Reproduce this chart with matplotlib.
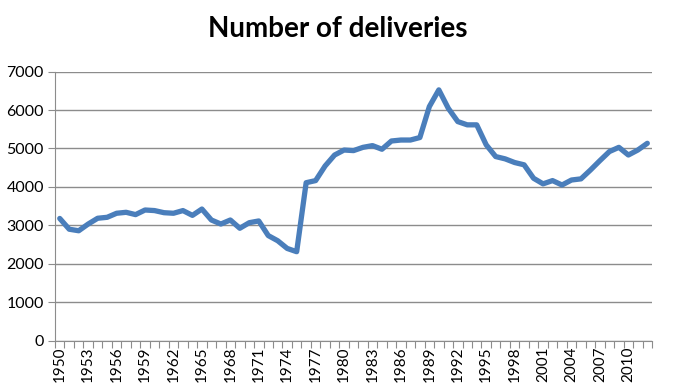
import numpy as np
import matplotlib.pyplot as plt

years = list(range(1950, 2013))
deliveries = [
    3180, 2900, 2860, 3035, 3185, 3210, 3315, 3340, 3280, 3400,
    3385, 3330, 3315, 3385, 3260, 3425, 3140, 3035, 3140, 2925,
    3070, 3115, 2735, 2600, 2400, 2315, 4110, 4165, 4545, 4830,
    4960, 4945, 5030, 5075, 4980, 5195, 5220, 5220, 5285, 6090,
    6525, 6045, 5700, 5615, 5615, 5095, 4790, 4730, 4635, 4575,
    4225, 4080, 4165, 4050, 4180, 4210, 4440, 4685, 4920, 5030,
    4830, 4960, 5135,
]
label_years = years[::3]

plt.rcParams['font.family'] = ['Lato', 'DejaVu Sans']

fig = plt.figure(figsize=(6.75, 3.9), dpi=100)
ax = fig.add_axes([0.0815, 0.1264, 0.8845, 0.69])

x = np.arange(len(years))
ax.plot(x, deliveries, color='#4a7ebb', linewidth=3.8, solid_capstyle='round',
        solid_joinstyle='round', zorder=3)

ax.set_xlim(-0.5, len(years) - 0.5)
ax.set_ylim(0, 7000)
ax.set_yticks(range(0, 7001, 1000))
ax.yaxis.grid(True, color='#8c8c8c', linewidth=1)
ax.set_axisbelow(True)

# tick marks between categories, labels every third year
ax.set_xticks(np.arange(-0.5, len(years), 1))
ax.set_xticklabels([])
ax.set_xticks([years.index(y) for y in label_years], minor=True)
ax.set_xticklabels([str(y) for y in label_years], minor=True, rotation=90,
                   fontsize=11)
ax.tick_params(axis='x', which='major', length=5, color='#8c8c8c', direction='out')
ax.tick_params(axis='x', which='minor', length=0, pad=4.5)
ax.tick_params(axis='y', length=5, color='#8c8c8c', labelsize=11.5, pad=3)

for s in ['top', 'right']:
    ax.spines[s].set_visible(False)
for s in ['left', 'bottom']:
    ax.spines[s].set_color('#8c8c8c')

fig.text(0.5, 0.925, 'Number of deliveries', ha='center', va='center',
         fontsize=20, fontweight='bold')

fig.savefig('out.png', dpi=100)
